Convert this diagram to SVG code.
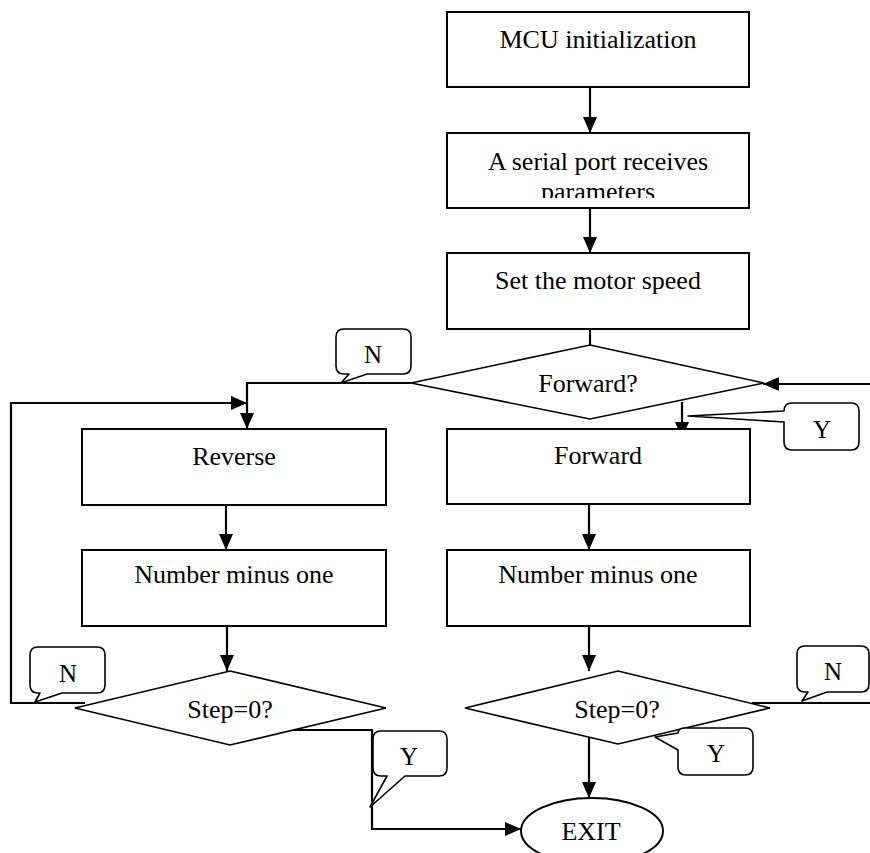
<svg xmlns="http://www.w3.org/2000/svg" width="870" height="853" viewBox="0 0 870 853">
<style>
.box{fill:#fff;stroke:#000;stroke-width:2}
.dia{fill:#fff;stroke:#000;stroke-width:1.6}
.call{fill:#fff;stroke:#000;stroke-width:1.6;stroke-linejoin:round}
.con{fill:none;stroke:#000;stroke-width:2.2}
text{font-family:"Liberation Serif","Times New Roman",serif;font-size:26px;fill:#000;text-anchor:middle}
.lbl{font-size:25px}
</style>
<defs>
<marker id="ah" viewBox="0 0 16 14" refX="16" refY="7" markerWidth="16" markerHeight="14" markerUnits="userSpaceOnUse" orient="auto">
<path d="M0,0 L16,7 L0,14 Z" fill="#000"/>
</marker>
<clipPath id="clip2"><rect x="447" y="133" width="302" height="65"/></clipPath>
</defs>
<rect width="870" height="853" fill="#fff"/>
<g id="connectors">
<line class="con" x1="590" y1="87" x2="590" y2="133" marker-end="url(#ah)"/>
<line class="con" x1="590" y1="208" x2="590" y2="253" marker-end="url(#ah)"/>
<line class="con" x1="590" y1="329" x2="590" y2="345"/>
<polyline class="con" points="411,383 247,383 247,429" marker-end="url(#ah)"/>
<polyline class="con" points="85,703 11,703 11,403 247,403" marker-end="url(#ah)"/>
<line class="con" x1="682" y1="402" x2="682" y2="438" marker-end="url(#ah)"/>
<line class="con" x1="870" y1="384" x2="763" y2="384" marker-end="url(#ah)"/>
<line class="con" x1="226" y1="505" x2="226" y2="550" marker-end="url(#ah)"/>
<line class="con" x1="589" y1="504" x2="589" y2="550" marker-end="url(#ah)"/>
<line class="con" x1="227" y1="626" x2="227" y2="671" marker-end="url(#ah)"/>
<line class="con" x1="589" y1="626" x2="589" y2="671" marker-end="url(#ah)"/>
<polyline class="con" points="293,730 372,730 372,829 521,829" marker-end="url(#ah)"/>
<line class="con" x1="589" y1="737" x2="589" y2="798" marker-end="url(#ah)"/>
<line class="con" x1="752" y1="703" x2="870" y2="703"/>
</g>
<g id="mcu-init">
<rect class="box" x="447" y="12" width="302" height="75"/>
<text x="598" y="48">MCU initialization</text>
</g>
<g id="serial-port">
<rect class="box" x="447" y="133" width="302" height="75"/>
<g clip-path="url(#clip2)">
<text x="598" y="170">A serial port receives</text>
<text x="598" y="200">parameters</text>
</g>
</g>
<g id="set-speed">
<rect class="box" x="447" y="253" width="302" height="76"/>
<text x="598" y="289">Set the motor speed</text>
</g>
<g id="forward-decision">
<polygon class="dia" points="590,345 764,383 590,419 411,383"/>
<text x="588" y="392">Forward?</text>
</g>
<g id="reverse">
<rect class="box" x="82" y="429" width="304" height="76"/>
<text x="234" y="465">Reverse</text>
</g>
<g id="forward">
<rect class="box" x="447" y="429" width="303" height="75"/>
<text x="598" y="464">Forward</text>
</g>
<g id="minus-left">
<rect class="box" x="82" y="550" width="304" height="76"/>
<text x="234" y="583">Number minus one</text>
</g>
<g id="minus-right">
<rect class="box" x="447" y="550" width="303" height="76"/>
<text x="598" y="583">Number minus one</text>
</g>
<g id="step-left">
<polygon class="dia" points="230,671 386,708 230,745 75,708"/>
<text x="230" y="718">Step=0?</text>
</g>
<g id="step-right">
<polygon class="dia" points="618,671 770,708 618,744 465,708"/>
<text x="617" y="718">Step=0?</text>
</g>
<g id="exit">
<ellipse class="box" cx="592" cy="831" rx="71" ry="33"/>
<text x="591" y="840">EXIT</text>
</g>
<g id="label-n-top">
<path class="call" d="M344,329 H403 Q411,329 411,337 V366 Q411,374 403,374 H367 L341,383 L349,374 H344 Q336,374 336,366 V337 Q336,329 344,329 Z"/>
<text class="lbl" x="373" y="363">N</text>
</g>
<g id="label-y-top">
<path class="call" d="M792,403 H851 Q859,403 859,411 V442 Q859,450 851,450 H792 Q784,450 784,442 V422 L688,416 L784,411 Q784,403 792,403 Z"/>
<text class="lbl" x="822" y="438">Y</text>
</g>
<g id="label-n-left">
<path class="call" d="M38,647 H97 Q105,647 105,655 V685 Q105,693 97,693 H62 L35,702 L40,693 H38 Q30,693 30,685 V655 Q30,647 38,647 Z"/>
<text class="lbl" x="68" y="682">N</text>
</g>
<g id="label-y-left">
<path class="call" d="M381,731 H439 Q447,731 447,739 V768 Q447,776 439,776 H405 L370,807 L387,776 H381 Q373,776 373,768 V739 Q373,731 381,731 Z"/>
<text class="lbl" x="409" y="765">Y</text>
</g>
<g id="label-n-right">
<path class="call" d="M805,646 H861 Q869,646 869,654 V684 Q869,692 861,692 H827 L802,701 L808,692 H805 Q797,692 797,684 V654 Q797,646 805,646 Z"/>
<text class="lbl" x="833" y="680">N</text>
</g>
<g id="label-y-right">
<path class="call" d="M686,728 H745 Q753,728 753,736 V767 Q753,775 745,775 H686 Q678,775 678,767 V750 L655,737 L678,733 Q678,728 686,728 Z"/>
<text class="lbl" x="716" y="762">Y</text>
</g>
</svg>
